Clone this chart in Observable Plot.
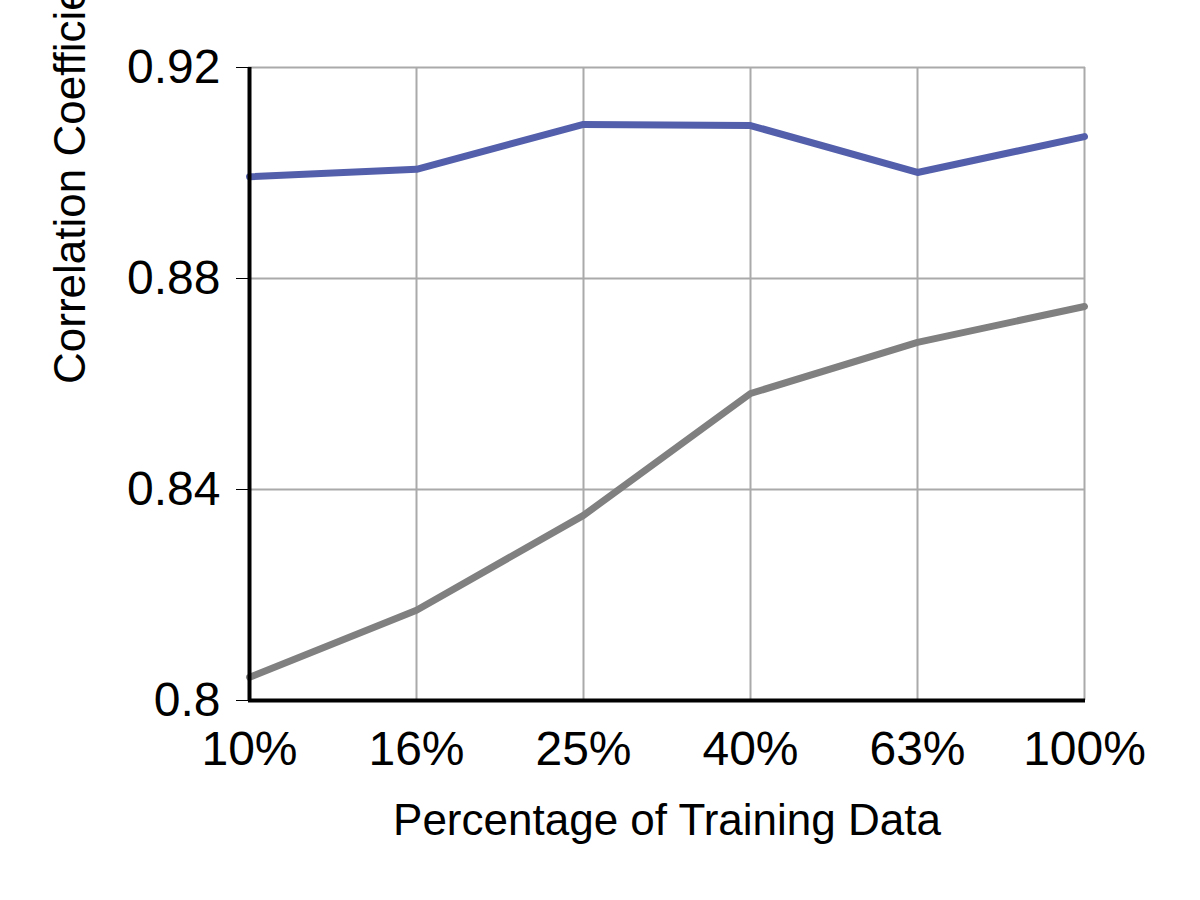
<!DOCTYPE html>
<html>
<head>
<meta charset="utf-8">
<script src="https://cdn.jsdelivr.net/npm/d3@7"></script>
<script src="https://cdn.jsdelivr.net/npm/@observablehq/plot@0.6"></script>
<style>body{margin:0;background:#fff;font-family:"Liberation Sans",Arial,sans-serif}</style>
</head>
<body>
<div id="chart"></div>
<script>
let pcts = ["10%", "16%", "25%", "40%", "63%", "100%"]
let blueVals = [0.8993, 0.9007, 0.9092, 0.9090, 0.9001, 0.9069]
let grayVals = [0.8044, 0.8171, 0.8351, 0.8582, 0.8679, 0.8747]
let yTicks = [0.8, 0.84, 0.88, 0.92]

let rows = []
pcts.forEach((p, i) => {
  rows.push({p: p, v: blueVals[i], s: "blue"})
  rows.push({p: p, v: grayVals[i], s: "gray"})
})

let chart = Plot.plot({
  width: 1200,
  height: 900,
  marginLeft: 248,
  marginRight: 115,
  marginTop: 67,
  marginBottom: 200,
  style: {fontFamily: "Liberation Sans, Arial, sans-serif", fontSize: "48px", color: "#000"},
  x: {type: "point", domain: pcts, padding: 0},
  y: {domain: [0.8, 0.92]},
  marks: [
    Plot.gridX(pcts, {stroke: "#aaa", strokeOpacity: 1, strokeWidth: 2}),
    Plot.gridY(yTicks, {stroke: "#aaa", strokeOpacity: 1, strokeWidth: 2}),
    Plot.axisX({tickSize: 0, tickPadding: 30, fontSize: 48, label: null}),
    Plot.axisY({ticks: yTicks, tickFormat: d => String(d), tickSize: 12, tickWidth: 4, tickPadding: 16, fontSize: 48, label: null}),
    Plot.text(["Percentage of Training Data"], {frameAnchor: "bottom", dy: 120, fontSize: 44, lineAnchor: "middle"}),
    Plot.text(["Correlation Coefficient"], {frameAnchor: "left", dx: -178, rotate: -90, fontSize: 44}),
    Plot.line(rows, {x: "p", y: "v", z: "s", stroke: d => d.s == "blue" ? "#535fab" : "#808080", strokeWidth: 7}),
    Plot.ruleY([0.8], {stroke: "#000", strokeWidth: 4}),
    Plot.ruleX([pcts[0]], {stroke: "#000", strokeWidth: 4})
  ]
})
d3.select('#chart').append(() => chart)
</script>
</body>
</html>
